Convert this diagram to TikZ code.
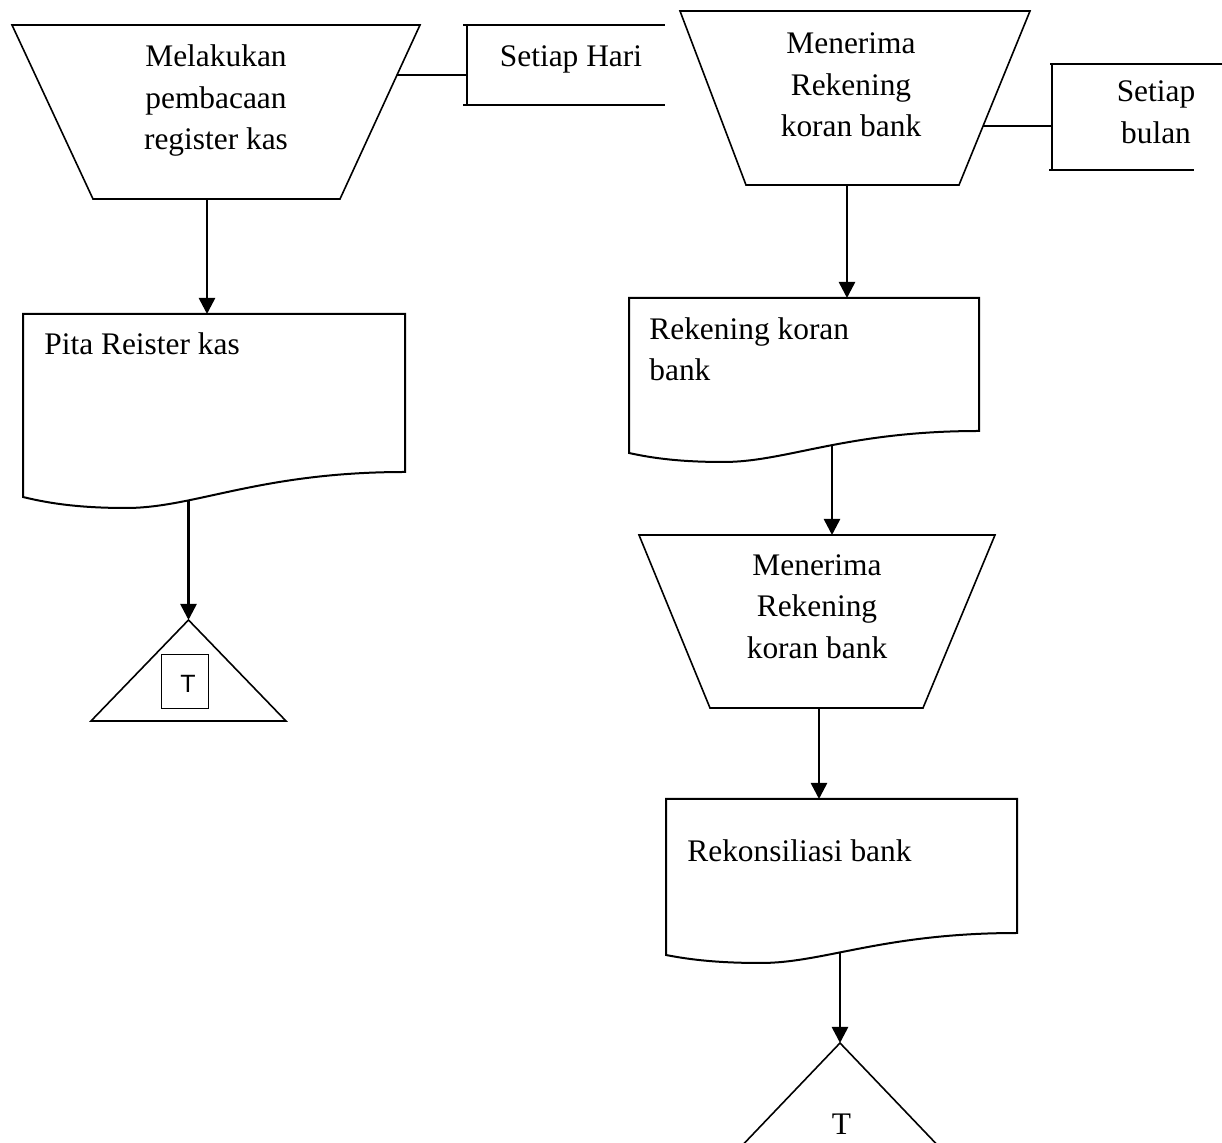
\documentclass[tikz,border=0pt]{standalone}
\usepackage{fontspec}
\setmainfont{Liberation Serif}
\newfontfamily\tfont{Liberation Sans}
\usetikzlibrary{arrows.meta,calc,fit}

% trapezoid (manual operation) drawn from its bounding node: node, left inset, right inset
\newcommand\trapout[3]{%
  \draw[outline] (#1.north west) -- (#1.north east) -- ($(#1.south east)+(-#3,0)$)
    -- ($(#1.south west)+(#2,0)$) -- cycle;}
% document symbol: node, extra drop of the left corner, depth of the wave trough
\newcommand\docout[3]{%
  \draw[docline] let \p1=(#1.north west), \p2=(#1.south east) in
    (\p1) -- (\x2,\y1) -- (\p2)
    .. controls ({\x1+0.62*(\x2-\x1)},\y2) and ({\x1+0.45*(\x2-\x1)},{\y2-#2-#3}) ..
       ({\x1+0.27*(\x2-\x1)},{\y2-#2-#3})
    .. controls ({\x1+0.15*(\x2-\x1)},{\y2-#2-#3}) and ({\x1+0.07*(\x2-\x1)},{\y2-#2-0.6*#3}) ..
       (\x1,{\y2-#2}) -- cycle;}

\begin{document}
\begin{tikzpicture}[x=0.5pt,y=-0.5pt,
  box/.style={inner sep=0pt,outer sep=0pt,draw=none},
  outline/.style={line width=0.8pt,line join=miter},
  docline/.style={line width=1pt,line join=miter},
  tie/.style={line width=1pt},
  arr/.style={line width=1.3pt,-{Triangle[length=8pt,width=8pt]}},
  txt/.style={font=\fontsize{15.7}{20.75}\selectfont,inner sep=0pt,align=center}]

\useasboundingbox (0,0) rectangle (1222,1143);
\fill[white] (0,0) rectangle (1222,1143);
\clip (0,0) rectangle (1222,1143);

% ---- shape frames ----
\node[box,fit={(12,25) (420,199)}] (t1) {};
\node[box,fit={(467,25) (665,105)}] (br1) {};
\node[box,fit={(680,11) (1030,185)}] (t2) {};
\node[box,fit={(1052,64) (1222,170)}] (br2) {};
\node[box,fit={(23,314) (405,472)}] (d1) {};
\node[box,fit={(91,620) (286,721)}] (tr1) {};
\node[box,fit={(161,655) (208,709)}] (sq1) {};
\node[box,fit={(629,298) (979,431)}] (d2) {};
\node[box,fit={(639,535) (995,708)}] (t3) {};
\node[box,fit={(666,799) (1017,933)}] (d3) {};
\node[box,fit={(735,1043) (945,1153)}] (tr2) {};

% ---- outlines ----
\trapout{t1}{81}{80}
\trapout{t2}{66}{71}
\trapout{t3}{71}{72}
\docout{d1}{12.5pt}{5.5pt}
\docout{d2}{11pt}{4.5pt}
\docout{d3}{11pt}{4pt}
\draw[outline] (tr1.south west) -- (tr1.north) -- (tr1.south east) -- cycle;
\draw[line width=0.5pt] (sq1.north west) rectangle (sq1.south east);
\draw[outline] (tr2.south west) -- (tr2.north) -- (tr2.south east);

% annotation brackets
\draw[tie] ([xshift=-2pt]br1.north west) -- (br1.north east);
\draw[tie] ([xshift=-2pt]br1.south west) -- (br1.south east);
\draw[tie] (br1.north west) -- (br1.south west);
\draw[tie] ([xshift=-1pt]br2.north west) -- (br2.north east);
\draw[tie] ([xshift=-1.5pt]br2.south west) -- ([xshift=-14pt]br2.south east);
\draw[tie] (br2.north west) -- (br2.south west);

% ---- texts ----
\node[txt] (t1txt) at (216,100) {\strut Melakukan\\\strut pembacaan\\\strut register kas};
\node[txt] (hari) at (571,58.5) {\strut Setiap Hari};
\node[txt] (t2txt) at (851,87) {\strut Menerima\\\strut Rekening\\\strut koran bank};
\node[txt] (bulan) at (1156,114.2) {\strut Setiap\\\strut bulan};
\node[txt,anchor=base west] (d1txt) at (44,355) {Pita Reister kas};
\node[txt,align=left,anchor=north west] (d2txt) at (649,310) {\strut Rekening koran\\\strut bank};
\node[txt] (t3txt) at (817,608.7) {\strut Menerima\\\strut Rekening\\\strut koran bank};
\node[txt,anchor=base west] (d3txt) at (687,862) {Rekonsiliasi bank};
\node[txt] (tr2txt) at (841.5,1124) {T};
\node[font=\tfont\fontsize{12.5}{14}\selectfont,inner sep=0pt] (tr1txt) at (188,684) {T};

% ---- connectors ----
\coordinate (d1w) at (188.5,500.5);
\coordinate (d2w) at (832,445);
\coordinate (d3w) at (840,952.5);
\coordinate (t1side) at (397,75);
\coordinate (t2side) at (983,126);

\draw[arr] (t1.south -| 207,0) -- (d1.north -| 207,0);
\draw[arr] (d1w) -- (d1w |- tr1.north);
\draw[arr] (t2.south -| 847,0) -- (d2.north -| 847,0);
\draw[arr] (d2w) -- (d2w |- t3.north);
\draw[arr] (t3.south -| 819,0) -- (d3.north -| 819,0);
\draw[arr] (d3w) -- (tr2.north);
\draw[tie] (t1side) -- (t1side -| br1.west);
\draw[tie] (t2side) -- (t2side -| br2.west);
\end{tikzpicture}
\end{document}
